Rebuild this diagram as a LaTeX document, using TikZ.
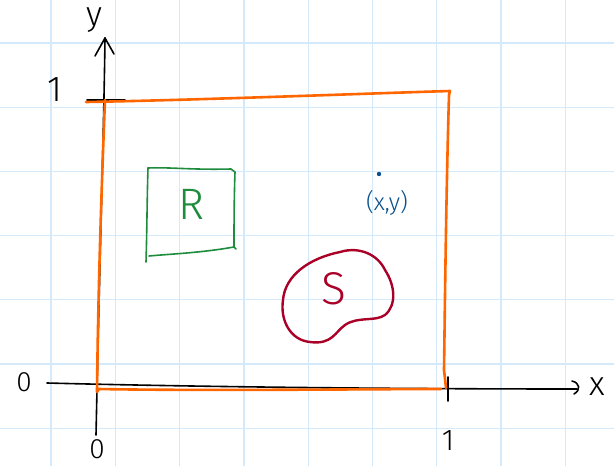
\documentclass[tikz,border=0pt]{standalone}
\usepackage{fontspec}
\setmainfont{Fira Sans Light}
\definecolor{gridblue}{RGB}{212,234,250}
\definecolor{penorange}{RGB}{255,102,0}
\definecolor{pengreen}{RGB}{30,140,60}
\definecolor{penblue}{RGB}{10,80,140}
\definecolor{penred}{RGB}{170,0,40}
\tikzset{
  gridline/.style={gridblue, line width=1.3pt},
  axis/.style={black, line width=1.6pt, line cap=round, line join=round},
  orangepen/.style={penorange, line width=2.6pt, line cap=round, line join=round},
  greenpen/.style={pengreen, line width=1.6pt, line cap=round, line join=round},
  redpen/.style={penred, line width=2.4pt, line cap=round, line join=round},
  lbl/.style={inner sep=0pt, font=\fontsize{30}{30}\selectfont},
}
\begin{document}
\begin{tikzpicture}[x=1pt, y=-1pt]
\useasboundingbox (0,0) rectangle (614,466);
\fill[white] (0,0) rectangle (614,466);
% grid
\foreach \gx in {51,115.3,179.6,243.9,308.2,372.5,436.8,501.1,565.4}
  \draw[gridline] (\gx,0) -- (\gx,466);
\foreach \gy in {43,107.2,171.4,235.6,299.8,364,428.2}
  \draw[gridline] (0,\gy) -- (614,\gy);
% axes
\coordinate (ybot) at (96,435);
\coordinate (ytop) at (105,38);
\coordinate (xleft) at (47,383);
\coordinate (xright) at (577,389);
\draw[axis] (ybot) .. controls (100,250) and (104,120) .. (ytop);
\draw[axis] (95,56) -- (ytop) -- (114,54);
\draw[axis] (xleft) .. controls (200,387) and (400,389) .. (xright);
\draw[axis] (572,381) .. controls (580,383) and (581,390) .. (574,394);
% ticks
\draw[axis] (87,100) -- (125,100);
\draw[axis] (448,377) -- (448,401);
% orange square
\coordinate (otl) at (86,102);
\coordinate (otr) at (450,91);
\coordinate (obr) at (444,389);
\coordinate (obl) at (97,392);
\draw[orangepen] (otl) .. controls (200,100) and (380,93) .. (otr)
  -- (449,95) .. controls (446,200) and (445,300) .. (444,370) -- (446,388);
\draw[orangepen] (105,100) .. controls (101,200) and (98,300) .. (obl) -- (99,389)
  .. controls (200,391) and (380,389) .. (441,389);
% green box R
\draw[greenpen] (148,168) .. controls (170,167) and (190,170) .. (231,169) -- (235,172)
  .. controls (234,200) and (234,230) .. (234,247) -- (236,249);
\draw[greenpen] (234,247) .. controls (200,253) and (170,254) .. (149,256);
\draw[greenpen] (146,262) .. controls (147,230) and (147,200) .. (148,168);
\node[lbl, pengreen, font=\fontsize{44}{44}\selectfont] (R) at (191,204) {R};
% point (x,y)
\fill[penblue] (379,174) circle (2.2pt);
\node[lbl, penblue, font=\fontsize{24}{24}\selectfont] (pt) at (387,203) {(x,y)};
% blob S
\draw[redpen] (340,252) .. controls (360,246) and (378,255) .. (385,270)
  .. controls (395,285) and (397,305) .. (385,315)
  .. controls (375,322) and (358,316) .. (345,325)
  .. controls (335,332) and (332,345) .. (310,342)
  .. controls (290,340) and (280,320) .. (283,300)
  .. controls (285,275) and (310,258) .. (340,252);
\node[lbl, penred, font=\fontsize{46}{46}\selectfont] (S) at (334,289) {S};
% axis labels
\node[lbl, font=\fontsize{34}{34}\selectfont] (ylab) at (94,20) {y};
\node[lbl, font=\fontsize{34}{34}\selectfont] (xlab) at (597,387) {x};
\node[lbl, font=\fontsize{36}{36}\selectfont] (one1) at (55,90) {1};
\node[lbl, font=\fontsize{28}{28}\selectfont] (zero1) at (24,382) {0};
\node[lbl, font=\fontsize{28}{28}\selectfont] (zero2) at (97,449) {0};
\node[lbl, font=\fontsize{30}{30}\selectfont] (one2) at (448,441) {1};
\end{tikzpicture}
\end{document}
